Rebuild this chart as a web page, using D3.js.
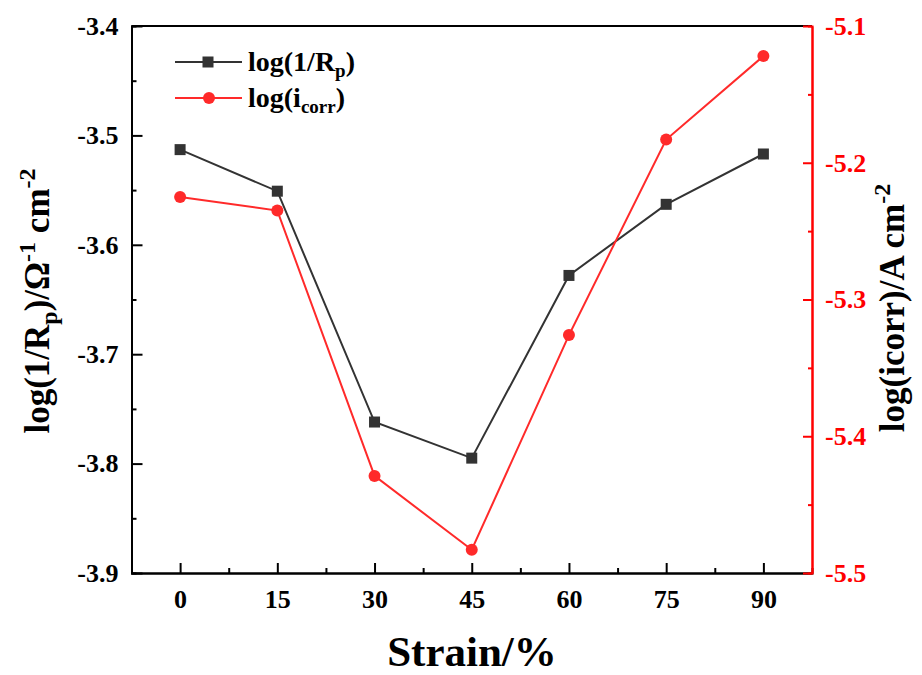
<!DOCTYPE html>
<html>
<head>
<meta charset="utf-8">
<script src="https://cdn.jsdelivr.net/npm/d3@7"></script>
<style>
  html, body { margin: 0; padding: 0; background: #fff; }
  svg { display: block; }
  svg text { font-family: "Times New Roman", "Liberation Serif", Times, "DejaVu Serif", serif; font-weight: bold; }
</style>
</head>
<body>
<svg id="chart" width="922" height="675"></svg>
<script>
// Strain levels (%)
const strain = [0, 15, 30, 45, 60, 75, 90];
// log(1/Rp), left axis
const logInvRp = [-3.513, -3.551, -3.762, -3.795, -3.628, -3.563, -3.517];
// log(icorr), right axis
const logIcorr = [-5.225, -5.235, -5.429, -5.483, -5.326, -5.183, -5.122];

const xTicks = [0, 15, 30, 45, 60, 75, 90];
const xMinorTicks = [7.5, 22.5, 37.5, 52.5, 67.5, 82.5];
const yLeftTicks = [-3.9, -3.8, -3.7, -3.6, -3.5, -3.4];
const yLeftMinor = [-3.85, -3.75, -3.65, -3.55, -3.45];
const yRightTicks = [-5.5, -5.4, -5.3, -5.2, -5.1];
const yRightMinor = [-5.45, -5.35, -5.25, -5.15];

const BLACK = "#333333";
const RED = "#ff2a2a";
const AXIS_RED = "#ff0000";
const FONT = "'Times New Roman', 'Liberation Serif', Times, 'DejaVu Serif', serif";

const svg = d3.select("#chart");
const L = 131.5, R = 812, T = 26, B = 573;

const x = d3.scaleLinear().domain([-7.5, 97.5]).range([L, R]);
const yL = d3.scaleLinear().domain([-3.9, -3.4]).range([B, T]);
const yR = d3.scaleLinear().domain([-5.5, -5.1]).range([B, T]);

// top frame line
svg.append("line").attr("x1", L).attr("x2", R).attr("y1", T).attr("y2", T)
  .attr("stroke", "#000").attr("stroke-width", 2);

function styleAxis(g, color) {
  g.attr("font-family", null).attr("font-size", null);
  g.select(".domain").attr("stroke", color).attr("stroke-width", 2);
  g.selectAll(".tick line").attr("stroke", color).attr("stroke-width", 2);
  g.selectAll(".tick text").attr("fill", color)
    .style("font-family", FONT).style("font-weight", "bold")
    .style("font-size", "26px");
}

// bottom axis: minor then major
svg.append("g").attr("transform", `translate(0,${B})`)
  .call(d3.axisBottom(x).tickValues(xMinorTicks).tickSize(-5).tickFormat(""))
  .call(g => styleAxis(g, "#000"));
svg.append("g").attr("transform", `translate(0,${B})`)
  .call(d3.axisBottom(x).tickValues(xTicks).tickSize(-10).tickPadding(17).tickSizeOuter(0)
    .tickFormat(d3.format("d")))
  .call(g => styleAxis(g, "#000"));

// left axis
svg.append("g").attr("transform", `translate(${L},0)`)
  .call(d3.axisLeft(yL).tickValues(yLeftMinor).tickSize(-5).tickFormat(""))
  .call(g => styleAxis(g, "#000"));
svg.append("g").attr("transform", `translate(${L},0)`)
  .call(d3.axisLeft(yL).tickValues(yLeftTicks).tickSize(-11).tickPadding(13).tickSizeOuter(0)
    .tickFormat(d => d.toFixed(1)))
  .call(g => styleAxis(g, "#000"));

// right axis (red)
svg.append("g").attr("transform", `translate(${R},0)`)
  .call(d3.axisRight(yR).tickValues(yRightMinor).tickSize(-4).tickFormat(""))
  .call(g => styleAxis(g, AXIS_RED));
svg.append("g").attr("transform", `translate(${R},0)`)
  .call(d3.axisRight(yR).tickValues(yRightTicks).tickSize(-9).tickPadding(13).tickSizeOuter(0)
    .tickFormat(d => d.toFixed(1)))
  .call(g => styleAxis(g, AXIS_RED));

// series
const lineL = d3.line().x((d, i) => x(strain[i])).y(d => yL(d));
const lineR = d3.line().x((d, i) => x(strain[i])).y(d => yR(d));

svg.append("path").datum(logInvRp).attr("d", lineL)
  .attr("fill", "none").attr("stroke", BLACK).attr("stroke-width", 2);
svg.selectAll(".sq").data(logInvRp).enter().append("rect")
  .attr("x", (d, i) => x(strain[i]) - 5.5).attr("y", d => yL(d) - 5.5)
  .attr("width", 11).attr("height", 11).attr("fill", BLACK);

svg.append("path").datum(logIcorr).attr("d", lineR)
  .attr("fill", "none").attr("stroke", RED).attr("stroke-width", 2);
svg.selectAll(".dot").data(logIcorr).enter().append("circle")
  .attr("cx", (d, i) => x(strain[i])).attr("cy", d => yR(d))
  .attr("r", 6).attr("fill", RED);

// legend
const leg = svg.append("g");
const legY = [62, 98];
leg.append("line").attr("x1", 175).attr("x2", 242).attr("y1", legY[0]).attr("y2", legY[0])
  .attr("stroke", BLACK).attr("stroke-width", 2);
leg.append("rect").attr("x", 208 - 5.5).attr("y", legY[0] - 5.5).attr("width", 11).attr("height", 11).attr("fill", BLACK);
leg.append("line").attr("x1", 175).attr("x2", 242).attr("y1", legY[1]).attr("y2", legY[1])
  .attr("stroke", RED).attr("stroke-width", 2);
leg.append("circle").attr("cx", 209).attr("cy", legY[1]).attr("r", 6).attr("fill", RED);

const t1 = leg.append("text").attr("x", 248).attr("y", legY[0] + 9).attr("font-size", 28).attr("fill", "#000");
t1.append("tspan").text("log(1/R");
t1.append("tspan").attr("font-size", 19).attr("dy", 6).text("p");
t1.append("tspan").attr("dy", -6).text(")");

const t2 = leg.append("text").attr("x", 248).attr("y", legY[1] + 9).attr("font-size", 28).attr("fill", "#000");
t2.append("tspan").text("log(i");
t2.append("tspan").attr("font-size", 19).attr("dy", 6).text("corr");
t2.append("tspan").attr("dy", -6).text(")");

// x axis title
svg.append("text").attr("x", 472).attr("y", 666).attr("text-anchor", "middle")
  .attr("font-size", 43).attr("fill", "#000").text("Strain/%");

// left axis title
const yl = svg.append("text").attr("transform", "translate(49,301) rotate(-90)")
  .attr("text-anchor", "middle").attr("font-size", 35).attr("fill", "#000");
yl.append("tspan").text("log(1/R");
yl.append("tspan").attr("font-size", 24).attr("dy", 8).text("p");
yl.append("tspan").attr("dy", -8).text(")/Ω");
yl.append("tspan").attr("font-size", 24).attr("dy", -14).text("-1");
yl.append("tspan").attr("dy", 14).text(" cm");
yl.append("tspan").attr("font-size", 24).attr("dy", -14).text("-2");

// right axis title
const yr = svg.append("text").attr("transform", "translate(904,308) rotate(-90)")
  .attr("text-anchor", "middle").attr("font-size", 35).attr("fill", "#000");
yr.append("tspan").text("log(icorr)/A cm");
yr.append("tspan").attr("font-size", 24).attr("dy", -14).text("-2");
</script>
</body>
</html>
